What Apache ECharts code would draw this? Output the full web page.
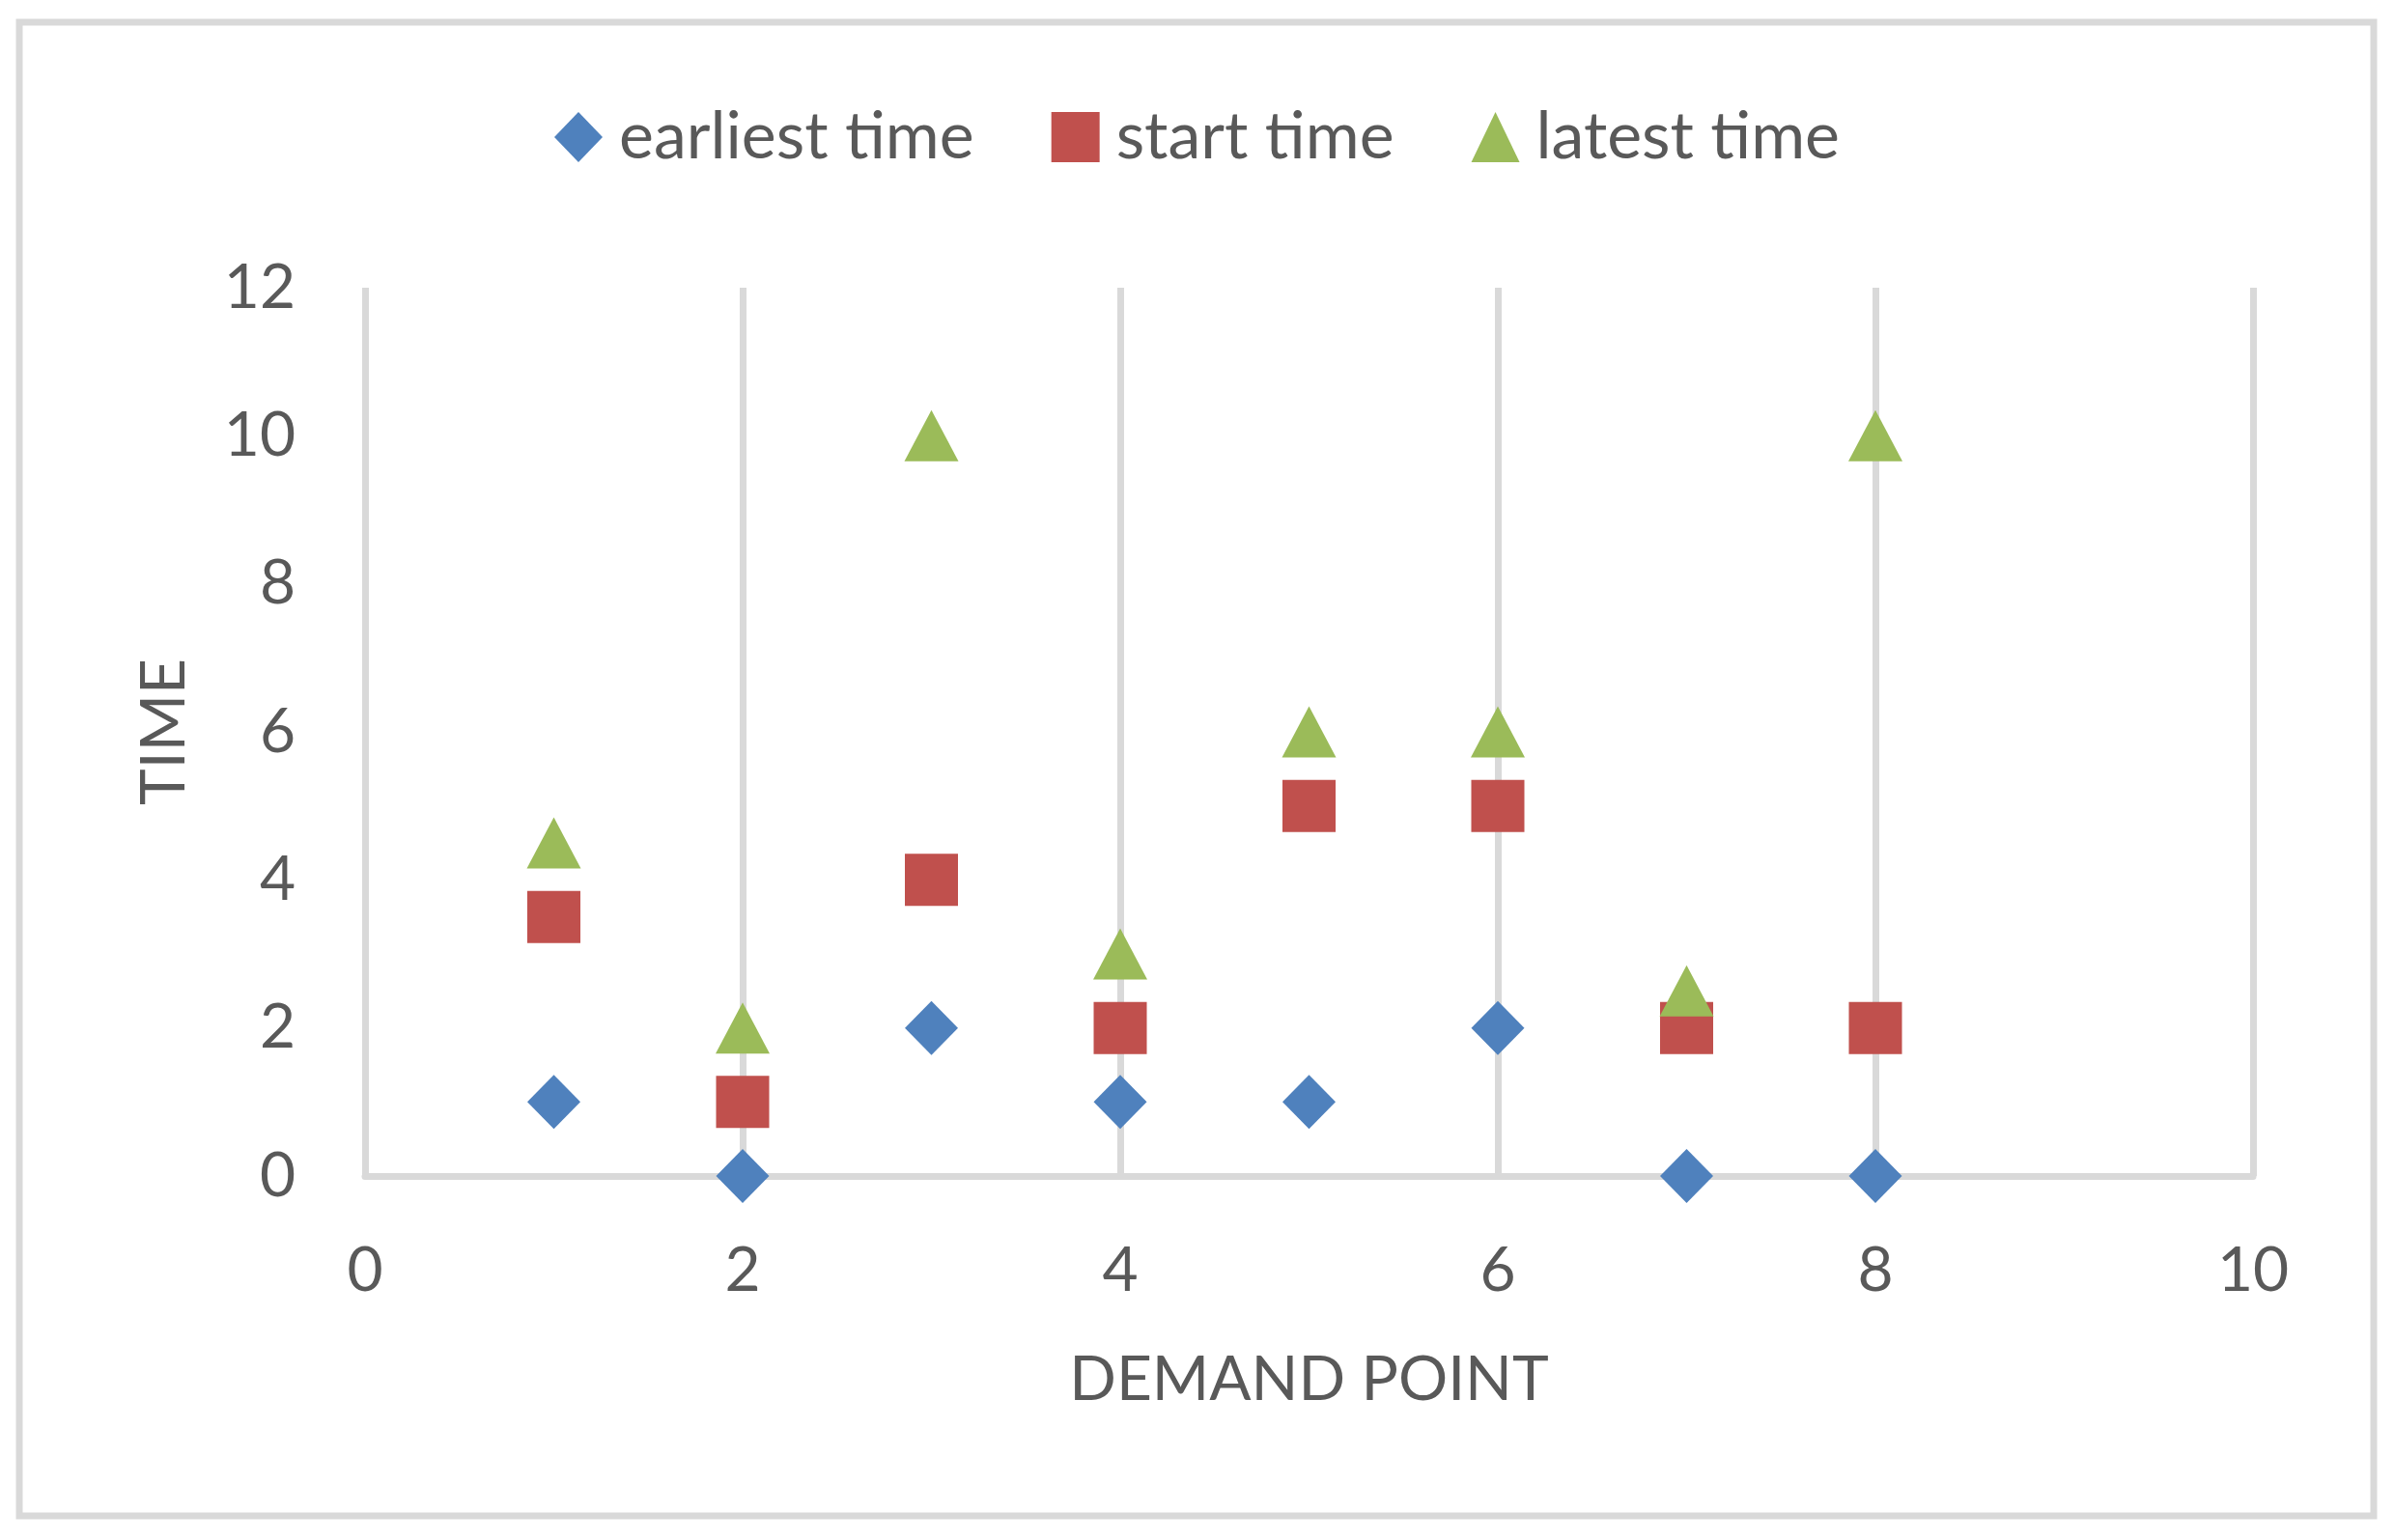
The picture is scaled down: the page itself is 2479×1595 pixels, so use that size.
<!DOCTYPE html>
<html>
<head>
<meta charset="utf-8">
<script src="https://cdn.jsdelivr.net/npm/echarts@6/dist/echarts.min.js"></script>
<style>
  html, body { margin: 0; padding: 0; background: #fff; }
</style>
</head>
<body>
<div id="chart" style="width: 2479px; height: 1595px;"></div>
<script>
const demandPoints = [1, 2, 3, 4, 5, 6, 7, 8];
const earliestTime = [1, 0, 2, 1, 1, 2, 0, 0];
const startTime = [3.5, 1, 4, 2, 5, 5, 2, 2];
const latestTime = [4.5, 2, 10, 3, 6, 6, 2.5, 10];

const textColor = "#595959";
const gridColor = "#D9D9D9";
const font = "Lato";

function pairs(ys) {
  return demandPoints.map((x, i) => [x, ys[i]]);
}

const myChart = echarts.init(document.getElementById("chart"));
myChart.setOption({
  backgroundColor: "#fff",
  textStyle: { fontFamily: font, color: textColor },
  graphic: [
    {
      type: "rect",
      shape: { x: 20, y: 23, width: 2438, height: 1547 },
      style: { fill: "none", stroke: gridColor, lineWidth: 7 },
      silent: true,
    },
  ],
  legend: {
    top: 103,
    left: "center",
    itemWidth: 50,
    itemHeight: 52,
    itemGap: 80,
    textStyle: { fontSize: 68, color: textColor, fontFamily: font, padding: [0, 0, 0, 12] },
    data: ["earliest time", "start time", "latest time"],
  },
  grid: { left: 378, right: 146, top: 298, bottom: 377, containLabel: false },
  xAxis: {
    type: "value",
    min: 0,
    max: 10,
    interval: 2,
    name: "DEMAND POINT",
    nameLocation: "middle",
    nameGap: 179,
    nameTextStyle: { fontSize: 64, color: textColor, fontFamily: font },
    axisLine: { show: true, lineStyle: { color: gridColor, width: 7 } },
    axisTick: { show: false },
    axisLabel: { fontSize: 64, color: textColor, fontFamily: font, margin: 66 },
    splitLine: { show: true, lineStyle: { color: gridColor, width: 7 } },
  },
  yAxis: {
    type: "value",
    min: 0,
    max: 12,
    interval: 2,
    name: "TIME",
    nameLocation: "middle",
    nameGap: 176,
    nameTextStyle: { fontSize: 64, color: textColor, fontFamily: font },
    axisLine: { show: false },
    axisTick: { show: false },
    axisLabel: { fontSize: 64, color: textColor, fontFamily: font, margin: 72 },
    splitLine: { show: false },
  },
  series: [
    {
      name: "earliest time",
      type: "scatter",
      symbol: "diamond",
      symbolSize: [55, 56],
      itemStyle: { color: "#4F81BD", opacity: 1 },
      data: pairs(earliestTime),
    },
    {
      name: "start time",
      type: "scatter",
      symbol: "rect",
      symbolSize: [55, 54],
      itemStyle: { color: "#C0504D", opacity: 1 },
      data: pairs(startTime),
    },
    {
      name: "latest time",
      type: "scatter",
      symbol: "triangle",
      symbolSize: [56, 53],
      itemStyle: { color: "#9BBB59", opacity: 1 },
      data: pairs(latestTime),
    },
  ],
});
</script>
</body>
</html>
